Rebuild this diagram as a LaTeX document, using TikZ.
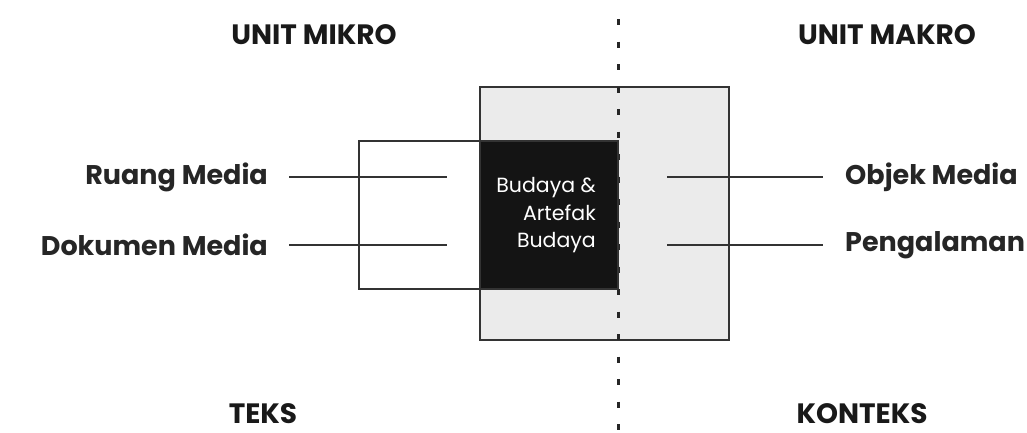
\documentclass[tikz,border=0pt]{standalone}
\usepackage{fontspec}
\setmainfont{Poppins}
\begin{document}
\begin{tikzpicture}[x=1pt,y=-1pt,
  frame/.style={draw=black!80,line width=2pt},
  conn/.style={draw=black!80,line width=1.6pt},
  head/.style={font=\fontsize{28}{30}\selectfont\bfseries,text=black!90,inner sep=0pt},
  lab/.style={font=\fontsize{27}{30}\selectfont\bfseries,text=black!85,inner sep=0pt},
  divider/.style={draw=black!85,line width=3pt,dash pattern=on 6pt off 16.5pt}]
\useasboundingbox (0,0) rectangle (1027,432);
% boxes
\draw[frame,fill=black!8] (480,87) rectangle (729,340);
\draw[frame] (480,141) -- (359,141) -- (359,289) -- (480,289);
\coordinate (dtop) at (618,19);
\coordinate (dbot) at (618,432);
\draw[divider] (dtop) -- (dbot);
\fill[black!92] (480,141) rectangle (618,289);
\draw[frame] (480,141) rectangle (618,289);
% center text
\node[font=\fontsize{20.5}{27.5}\selectfont,text=white,align=right,anchor=north east,inner sep=0pt] (core) at (596,177.5) {Budaya \&\\Artefak\\Budaya};
% headers
\node[head] (mikro) at (314,35) {UNIT MIKRO};
\node[head] (makro) at (887,35) {UNIT MAKRO};
\node[head] (teks) at (263,414) {TEKS};
\node[head] (konteks) at (862,414) {KONTEKS};
% labels
\node[lab,anchor=east] (ruang) at (268,177) {Ruang Media};
\node[lab,anchor=east] (dok) at (268,245) {Dokumen Media};
\node[lab,anchor=west] (objek) at (845,177) {Objek Media};
\node[lab,anchor=west] (peng) at (845,245) {Pengalaman};
\coordinate (rl1) at (447,177);
\coordinate (rl2) at (447,245);
\coordinate (rr1) at (667,177);
\coordinate (rr2) at (667,245);
\draw[conn] ([xshift=21pt]ruang.east) -- (rl1);
\draw[conn] ([xshift=21pt]dok.east) -- (rl2);
\draw[conn] (rr1) -- ([xshift=-22pt]objek.west);
\draw[conn] (rr2) -- ([xshift=-22pt]peng.west);
\end{tikzpicture}
\end{document}
